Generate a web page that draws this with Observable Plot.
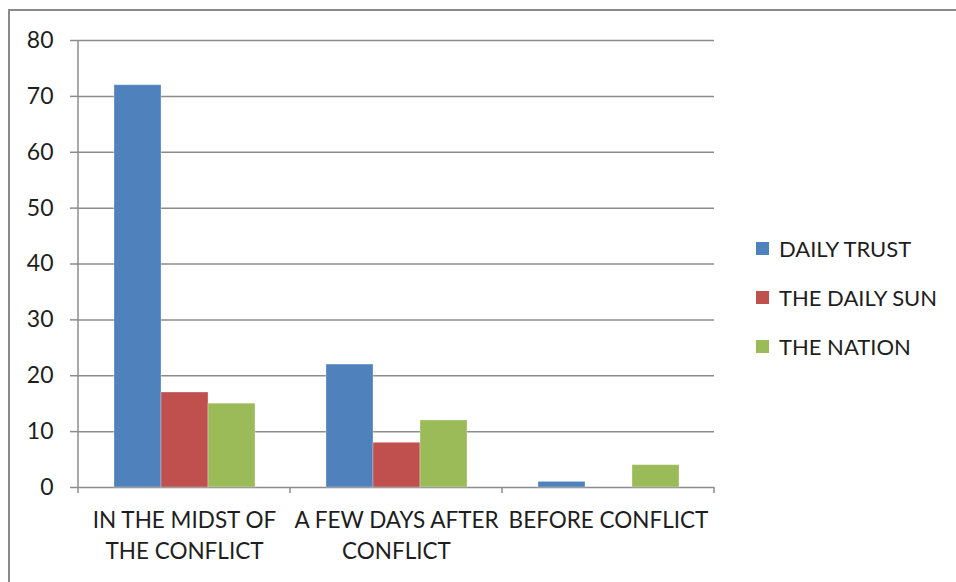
<!DOCTYPE html>
<html>
<head>
<meta charset="utf-8">
<script src="https://cdn.jsdelivr.net/npm/d3@7"></script>
<script src="https://cdn.jsdelivr.net/npm/@observablehq/plot@0.6"></script>
<style>
  html, body { margin: 0; padding: 0; background: #fff; }
  #wrap { position: relative; width: 956px; height: 582px; overflow: hidden; background: #fff; }
  #border { position: absolute; left: 8px; top: 9px; width: 2000px; height: 2000px;
            border-top: 2px solid #8a8a8a; border-left: 2px solid #8a8a8a; box-sizing: border-box; }
  #chart { position: absolute; left: 0; top: 0; }
  #legend { position: absolute; left: 756px; top: 224px; font-family: Lato, sans-serif;
            font-size: 22px; color: #1e1e1e; }
  .row { display: flex; align-items: center; height: 49px; }
  .sw { width: 13px; height: 13px; margin-right: 10px; }
</style>
</head>
<body>
<div id="wrap">
  <div id="border"></div>
  <div id="chart"></div>
  <div id="legend"></div>
</div>
<script>
// Category labels along the bottom (two lines where the label wraps)
const categories = ["IN THE MIDST OF\nTHE CONFLICT", "A FEW DAYS AFTER\nCONFLICT", "BEFORE CONFLICT"];
// Newspapers compared in each period
const seriesNames = ["DAILY TRUST", "THE DAILY SUN", "THE NATION"];
// Values per newspaper, in category order
const dailyTrust = [72, 22, 1];
const dailySun = [17, 8, 0];
const theNation = [15, 12, 4];
const seriesColors = ["#4F81BD", "#C0504D", "#9BBB59"];
const yTicks = [0, 10, 20, 30, 40, 50, 60, 70, 80];

const seriesValues = [dailyTrust, dailySun, theNation];
const rows = [];
categories.forEach((cat, i) => {
  seriesNames.forEach((s, j) => rows.push({cat, series: s, value: seriesValues[j][i]}));
});

const gray = "#8c8c8c";
const ink = "#1e1e1e";
const chart = Plot.plot({
  width: 956,
  height: 582,
  marginLeft: 77,
  marginRight: 242,
  marginTop: 40,
  marginBottom: 95,
  style: {fontFamily: "Lato, sans-serif", background: "transparent", color: ink, overflow: "visible"},
  fx: {domain: categories, padding: 0, label: null},
  x: {domain: seriesNames, paddingInner: 0, paddingOuter: 0.75, axis: null},
  y: {domain: [0, 80], label: null},
  color: {domain: seriesNames, range: seriesColors},
  marks: [
    Plot.gridY(yTicks, {stroke: gray, strokeOpacity: 1, strokeWidth: 1.5}),
    Plot.axisY(yTicks, {tickSize: 8, tickPadding: 17, fontSize: 23, stroke: gray, strokeWidth: 1.5, fill: ink, label: null}),
    Plot.barY(rows, {fx: "cat", x: "series", y: "value", fill: "series", stroke: "#fff", strokeOpacity: 0.3, strokeWidth: 1}),
    Plot.axisFx({anchor: "bottom", tickSize: 0, tickPadding: 18, fontSize: 22.5, lineHeight: 1.38, fill: ink, label: null})
  ]
});
document.getElementById("chart").appendChild(chart);

// Vertical axis line and the category boundary tick marks under the baseline
const fx = chart.scale("fx");
const y = chart.scale("y");
const svg = d3.select(chart);
const base = y.apply(0);
const left = fx.apply(categories[0]);
const g = svg.append("g").attr("stroke", gray).attr("stroke-width", 1.5);
g.append("line").attr("x1", left).attr("x2", left).attr("y1", y.apply(80)).attr("y2", base + 6);
categories.forEach((c) => {
  const x1 = fx.apply(c) + fx.bandwidth;
  g.append("line").attr("x1", x1).attr("x2", x1).attr("y1", base).attr("y2", base + 6);
});

// Legend
const legend = d3.select("#legend");
seriesNames.forEach((s, i) => {
  const row = legend.append("div").attr("class", "row");
  row.append("div").attr("class", "sw").style("background", seriesColors[i]);
  row.append("span").text(s);
});
</script>
</body>
</html>
